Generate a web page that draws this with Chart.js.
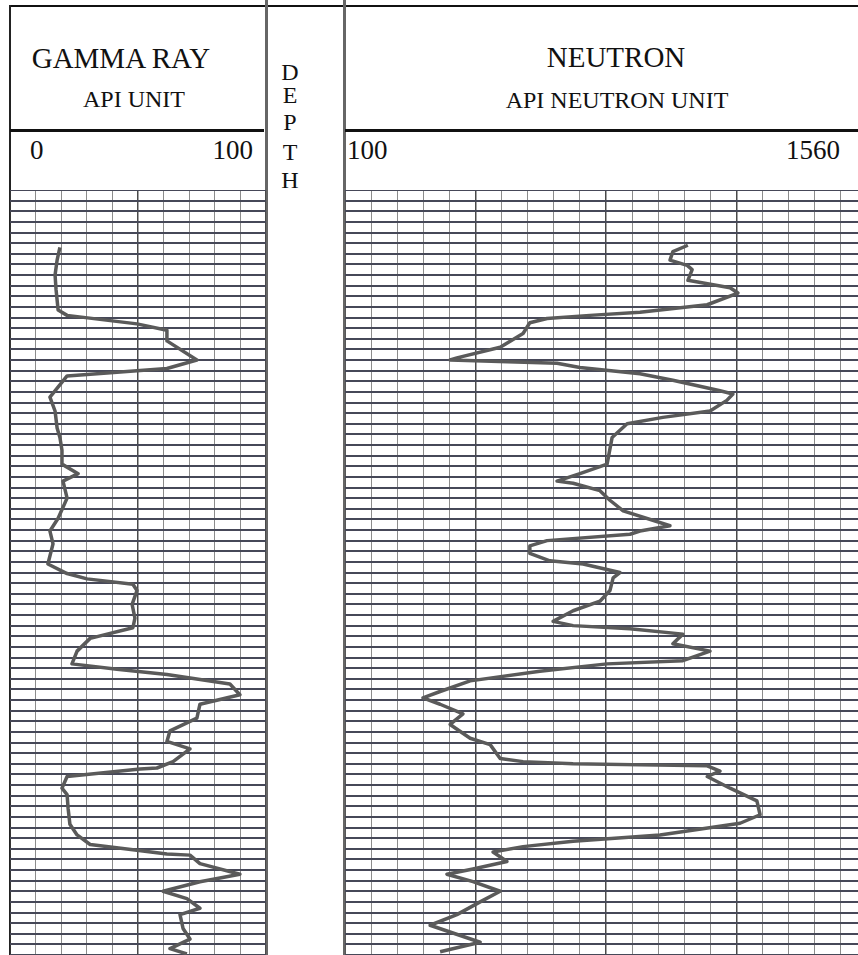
<!DOCTYPE html>
<html>
<head>
<meta charset="utf-8">
<title>Gamma Ray / Neutron log</title>
<script src="https://cdn.jsdelivr.net/npm/chart.js@4.4.0/dist/chart.umd.min.js"></script>
<style>
  html, body { margin:0; padding:0; background:#fff; }
  body { width:858px; height:955px; position:relative; overflow:hidden; font-family:"Liberation Serif", "Times New Roman", serif; color:#111; }
  .ln { position:absolute; }
  .txt { position:absolute; white-space:nowrap; line-height:1; }
  .c { transform:translateX(-50%); }
  canvas { position:absolute; }
</style>
</head>
<body>

<!-- track frame -->
<div class="ln" style="left:10px;top:5px;width:848px;height:2px;background:#111"></div>
<div class="ln" style="left:9px;top:5px;width:2px;height:950px;background:#222"></div>
<div class="ln" style="left:265px;top:0;width:3px;height:955px;background:#666"></div>
<div class="ln" style="left:343px;top:0;width:3px;height:955px;background:#666"></div>
<div class="ln" style="left:10px;top:129px;width:254px;height:3px;background:#111"></div>
<div class="ln" style="left:345px;top:129px;width:513px;height:3px;background:#111"></div>

<!-- headers -->
<div class="txt c" style="left:121px;top:44px;font-size:29px">GAMMA RAY</div>
<div class="txt c" style="left:134px;top:87px;font-size:24px">API UNIT</div>
<div class="txt" id="grMin" style="left:30px;top:137px;font-size:27px"></div>
<div class="txt" id="grMax" style="right:605px;top:137px;font-size:27px"></div>

<div class="txt c" style="left:290px;top:60px;font-size:24px">D</div>
<div class="txt c" style="left:290px;top:83px;font-size:24px">E</div>
<div class="txt c" style="left:290px;top:110px;font-size:24px">P</div>
<div class="txt c" style="left:290px;top:140px;font-size:24px">T</div>
<div class="txt c" style="left:290px;top:168px;font-size:24px">H</div>

<div class="txt c" style="left:616px;top:43px;font-size:29px">NEUTRON</div>
<div class="txt c" style="left:617px;top:88px;font-size:24px">API NEUTRON UNIT</div>
<div class="txt" id="nMin" style="left:347px;top:137px;font-size:27px"></div>
<div class="txt" id="nMax" style="right:18px;top:137px;font-size:27px"></div>

<canvas id="gammaChart" width="256" height="765" style="left:10px;top:190px"></canvas>
<canvas id="neutronChart" width="522" height="765" style="left:345px;top:190px"></canvas>

<script>
// depth is counted in chart divisions (one horizontal line per unit), top of grid = 0
var depthRange = [0, 72]

// scale labels
var gammaTicks = ['0', '100']
var neutronTicks = ['100', '1560']
var gammaRange = [0, 100]
var neutronRange = [100, 1560]

// Gamma ray curve (API units) against depth
var gammaDepth = [5.4, 6.6, 8.0, 9.4, 11.3, 11.8, 12.6, 13.2, 14.2, 16.0,
    16.8, 17.5, 19.5, 20.8, 22.4, 23.3, 24.5, 25.8, 26.7, 27.4,
    29.0, 30.9, 32.1, 33.3, 35.2, 36.1, 36.6, 37.1, 37.7, 39.0,
    40.3, 41.2, 42.2, 43.4, 44.6, 45.1, 45.6, 46.5, 47.5, 48.4,
    49.7, 50.9, 51.9, 52.6, 53.8, 54.4, 54.5, 55.2, 56.3, 56.9,
    58.2, 59.7, 60.7, 61.6, 62.1, 62.5, 62.6, 63.4, 64.4, 65.1,
    66.0, 66.7, 67.6, 68.2, 69.5, 70.5, 71.4, 71.9]
var gammaApi = [19.5, 18.4, 17.6, 18.0, 18.8, 22.3, 49.6, 61.3, 61.3, 73.0,
    61.3, 22.3, 15.6, 17.6, 18.4, 19.5, 20.3, 20.3, 26.6, 20.7,
    22.3, 18.8, 15.6, 16.8, 14.8, 22.3, 30.1, 48.0, 49.6, 47.7,
    48.8, 48.0, 31.3, 26.2, 24.2, 41.8, 61.3, 85.9, 89.8, 74.2,
    73.0, 62.5, 61.3, 70.3, 63.7, 57.4, 50.8, 22.3, 20.3, 22.3,
    22.7, 23.4, 26.2, 31.3, 48.0, 61.3, 70.3, 74.2, 89.8, 74.2,
    59.8, 69.1, 74.2, 66.4, 67.6, 70.3, 62.5, 69.1]

// Neutron curve (API neutron units) against depth
var neutronDepth = [5.2, 5.8, 6.6, 7.1, 7.5, 8.5, 9.2, 9.7, 10.8, 11.5,
    11.8, 12.1, 12.5, 13.5, 14.8, 15.8, 16.0, 16.3, 16.7, 17.3,
    17.9, 18.9, 19.2, 19.8, 20.8, 21.4, 22.0, 23.3, 25.8, 26.7,
    27.4, 27.6, 28.3, 29.2, 30.2, 31.6, 32.1, 32.4, 33.0, 33.5,
    34.2, 34.9, 35.2, 36.0, 36.5, 37.7, 38.7, 39.6, 40.6, 41.0,
    41.3, 41.8, 42.7, 43.4, 44.3, 44.6, 45.3, 46.2, 47.2, 47.8,
    48.4, 49.3, 50.3, 51.6, 52.2, 53.5, 53.8, 54.0, 54.2, 54.7,
    55.2, 56.3, 57.5, 58.8, 59.6, 60.7, 61.3, 61.8, 62.3, 63.2,
    63.9, 64.4, 65.1, 66.0, 67.0, 68.2, 69.2, 70.8, 71.7]
var neutronApi = [1059, 1017, 1009, 1057, 1071, 1059, 1177, 1199, 1113, 925,
    785, 665, 617, 598, 534, 413, 394, 693, 757, 925,
    1017, 1149, 1185, 1168, 1121, 989, 889, 847, 833, 757,
    693, 738, 813, 841, 878, 1009, 925, 897, 665, 617,
    617, 673, 766, 869, 850, 841, 813, 738, 682, 738,
    897, 1045, 1017, 1121, 1045, 833, 645, 450, 366, 318,
    366, 430, 394, 450, 506, 534, 598, 738, 1113, 1149,
    1113, 1177, 1252, 1261, 1205, 981, 738, 598, 514, 553,
    458, 385, 458, 534, 478, 413, 338, 478, 366]

document.getElementById('grMin').textContent = gammaTicks[0]
document.getElementById('grMax').textContent = gammaTicks[1]
document.getElementById('nMin').textContent = neutronTicks[0]
document.getElementById('nMax').textContent = neutronTicks[1]

var curveColor = '#5a5a5a'
var hLine = '#464858'

function toPoints(vals, depths){
    var pts = []
    for (var i = 0; i < vals.length; i++){
        pts.push({x: vals[i], y: depths[i]})
    }
    return pts
}

function makeTrack(id, vals, depths, range, step, heavyEvery){
    var ctx = document.getElementById(id).getContext('2d')
    return new Chart(ctx, {
        type: 'scatter',
        data: {
            datasets: [{
                data: toPoints(vals, depths),
                showLine: true,
                borderColor: curveColor,
                borderWidth: 3.5,
                pointRadius: 0,
                tension: 0,
                borderJoinStyle: 'round'
            }]
        },
        options: {
            responsive: false,
            animation: false,
            layout: { padding: 0 },
            plugins: { legend: { display: false }, tooltip: { enabled: false } },
            scales: {
                x: {
                    type: 'linear',
                    min: range[0],
                    max: range[1],
                    ticks: { display: false, stepSize: step },
                    border: { display: false },
                    grid: {
                        drawTicks: false,
                        color: function(c){ return (c.index % heavyEvery === 0) ? '#4a4a4a' : '#8c8c8c' },
                        lineWidth: function(c){ return (c.index % heavyEvery === 0) ? 1.5 : 1 }
                    }
                },
                y: {
                    type: 'linear',
                    reverse: true,
                    min: depthRange[0],
                    max: depthRange[1],
                    ticks: { display: false, stepSize: 1 },
                    border: { display: false },
                    grid: { drawTicks: false, color: hLine, lineWidth: 2 }
                }
            }
        }
    })
}

var gammaChart = makeTrack('gammaChart', gammaApi, gammaDepth, gammaRange, 10, 5)
var neutronChart = makeTrack('neutronChart', neutronApi, neutronDepth, neutronRange, 73, 5)
</script>
</body>
</html>
